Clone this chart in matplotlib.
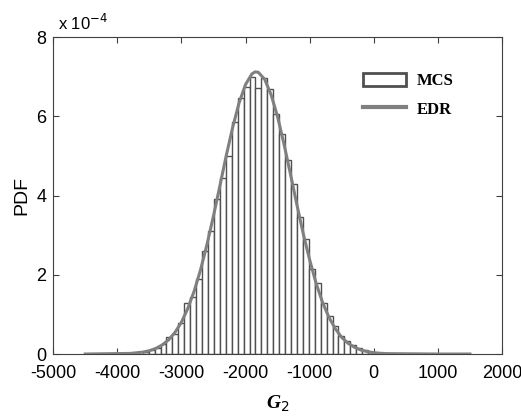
import numpy as np
import matplotlib
matplotlib.use("Agg")
import matplotlib.pyplot as plt
from matplotlib.patches import Patch
from matplotlib.lines import Line2D

# histograma MCS (valores en unidades de 1e-4)
bin_start = -3602.5
bin_width = 92.5
mcs_pdf = [0.06, 0.10, 0.14, 0.25, 0.42, 0.50, 0.78, 1.30, 1.45, 1.90,
           2.60, 3.10, 3.90, 4.45, 5.00, 5.85, 6.45, 6.75, 6.99, 6.71,
           6.96, 6.70, 6.05, 5.55, 4.90, 4.30, 3.45, 2.90, 2.15, 1.80,
           1.30, 0.95, 0.70, 0.45, 0.33, 0.22, 0.14, 0.10, 0.06, 0.03]

# curva EDR
edr_x = [-4500, -3800, -3600, -3500, -3400, -3300, -3200, -3100, -3000, -2900,
         -2800, -2700, -2600, -2500, -2400, -2300, -2200, -2100, -2000, -1900,
         -1850, -1800, -1700, -1600, -1500, -1400, -1300, -1200, -1100, -1000,
         -900, -800, -700, -600, -500, -400, -300, -200, -100, 0,
         100, 200, 1000, 1500]
edr_y = [0.0, 0.015, 0.048, 0.083, 0.14, 0.227, 0.357, 0.544, 0.80, 1.15,
         1.59, 2.13, 2.77, 3.48, 4.24, 5.01, 5.72, 6.34, 6.80, 7.07,
         7.12, 7.11, 6.93, 6.54, 5.99, 5.30, 4.55, 3.78, 3.04, 2.38,
         1.79, 1.31, 0.93, 0.64, 0.42, 0.27, 0.17, 0.10, 0.06, 0.034,
         0.019, 0.01, 0.0, 0.0]

xticks = [-5000, -4000, -3000, -2000, -1000, 0, 1000, 2000]
yticks = [0, 2, 4, 6, 8]

plt.rcParams['font.family'] = ['Liberation Sans', 'DejaVu Sans']
plt.rcParams['axes.unicode_minus'] = False

fig = plt.figure(figsize=(5.21, 4.16), dpi=100)
ax = fig.add_axes([0.102, 0.149, 0.8615, 0.762])

lefts = [bin_start + i * bin_width for i in range(len(mcs_pdf))]
ax.bar(lefts, mcs_pdf, width=bin_width, align='edge', color='white',
       edgecolor='#505050', linewidth=1.0, zorder=2)
ax.plot(edr_x, edr_y, color='#808080', linewidth=2.2, zorder=3)

ax.set_xlim(-5000, 2000)
ax.set_ylim(0, 8)
ax.set_xticks(xticks)
ax.set_yticks(yticks)
ax.tick_params(direction='in', top=True, right=True, labelsize=13,
               length=4, color='#404040')
ax.tick_params(axis='x', pad=8)
ax.tick_params(axis='y', pad=5)
for s in ax.spines.values():
    s.set_color('#404040')

ax.text(0.01, 1.012, r'x 10$^{-4}$', transform=ax.transAxes, fontsize=12,
        ha='left', va='bottom')
ax.set_ylabel('PDF', fontsize=14, labelpad=4)
ax.set_xlabel('G$_2$', fontsize=14,
              fontfamily='Liberation Serif', fontstyle='italic',
              fontweight='bold', labelpad=8)

handles = [Patch(facecolor='white', edgecolor='#505050', linewidth=2),
           Line2D([0], [0], color='#808080', linewidth=3)]
leg = ax.legend(handles, ['MCS', 'EDR'], loc='upper right',
                bbox_to_anchor=(0.925, 0.935), frameon=False,
                prop={'family': 'Liberation Serif', 'weight': 'bold', 'size': 12},
                handlelength=2.6, handleheight=0.9, labelspacing=0.7,
                handletextpad=0.6)

fig.savefig('out.png', dpi=100)
